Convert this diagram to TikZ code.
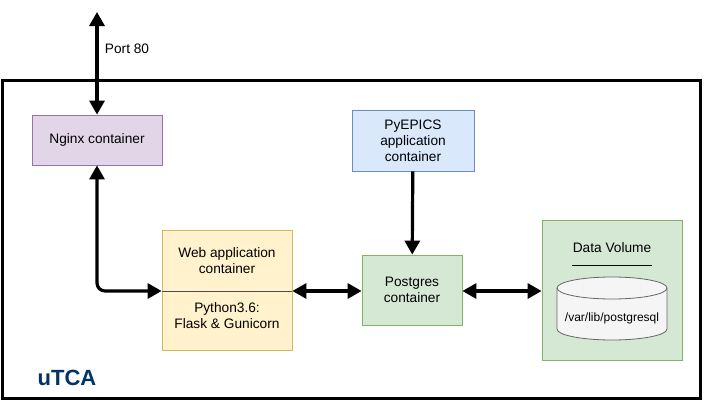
\documentclass[tikz,border=0pt]{standalone}
\usepackage{fontspec}
\setmainfont{Liberation Sans}
\usetikzlibrary{positioning}
\usetikzlibrary{arrows.meta}
\usetikzlibrary{calc}

\definecolor{nginxfill}{HTML}{E1D5E7}
\definecolor{nginxline}{HTML}{9673A6}
\definecolor{epicsfill}{HTML}{DAE8FC}
\definecolor{epicsline}{HTML}{6C8EBF}
\definecolor{webfill}{HTML}{FFF2CC}
\definecolor{webline}{HTML}{D6B656}
\definecolor{pgfill}{HTML}{D5E8D4}
\definecolor{pgline}{HTML}{82B366}
\definecolor{volfill}{HTML}{F5F5F5}
\definecolor{volline}{HTML}{666666}
\definecolor{utcablue}{HTML}{003366}

\tikzset{
  box/.style={draw,line width=0.8pt,align=center,inner sep=2pt},
  link/.style={line width=3.2pt,>={Triangle[length=14pt,width=15pt]}}
}

\begin{document}
\begin{tikzpicture}[x=1pt,y=-1pt,font=\fontsize{13.7}{16}\selectfont]
    \useasboundingbox (0,0) rectangle (704,402);
    % the uTCA frame
    \draw [line width=3pt] (2,80) rectangle (700,398);
    \node (uTCA) [text=utcablue,font=\fontsize{22}{24}\selectfont\bfseries] at (67,378) {uTCA};

    \node (Nginx) [box,fill=nginxfill,draw=nginxline,minimum width=130,minimum height=50] at (97,140) {Nginx container};
    \node (PyEPICS) [box,fill=epicsfill,draw=epicsline,minimum width=122,minimum height=61] at (413,140.5) {PyEPICS\\application\\container};
    \node (Web) [box,fill=webfill,draw=webline,minimum width=130,minimum height=120] at (227,290) {};
    \node (WebTop) at (227,261) [align=center] {Web application\\container};
    \node (WebBot) at (227,316) [align=center] {Python3.6:\\Flask \& Gunicorn};
    \draw [line width=0.8pt,draw=black!70] (Web.west |- 0,291) -- (Web.east |- 0,291);
    \node (Postgres) [box,fill=pgfill,draw=pgline,minimum width=100,minimum height=70] at (412,290) {Postgres\\container};
    \node (Data) [box,fill=pgfill,draw=pgline,minimum width=140,minimum height=140] at (612,290) {};
    \node (DataLabel) at (612,248) {Data Volume};
    \draw [line width=0.8pt] (572,265) -- (652,265);
    % the volume drawn as a cylinder
    \draw [fill=volfill,draw=volline,line width=0.8pt] (557,288) -- (557,329) arc [start angle=180,end angle=360,x radius=55,y radius=-11] -- (667,288) arc [start angle=0,end angle=180,x radius=55,y radius=-11] -- cycle;
    \draw [draw=volline,line width=0.8pt] (557,288) arc [start angle=180,end angle=360,x radius=55,y radius=-11];
    \node (Volume) [font=\fontsize{12}{14}\selectfont] at (612,318) {/var/lib/postgresql};

    \coordinate (Port) at (97,12);
    \draw [link,<->] (Port) -- (Nginx) node [pos=0.36,right=3pt] {Port 80};
    \draw [link,<->,rounded corners=8pt] (Nginx) |- (Web.west |- 0,291);
    \draw [link,<->] (Web.east |- 0,291) -- (Postgres.west |- 0,291);
    \draw [link,<->] (Postgres.east |- 0,291) -- (Data.west |- 0,291);
    \draw [link,->] (PyEPICS) -- (Postgres);
\end{tikzpicture}
\end{document}
